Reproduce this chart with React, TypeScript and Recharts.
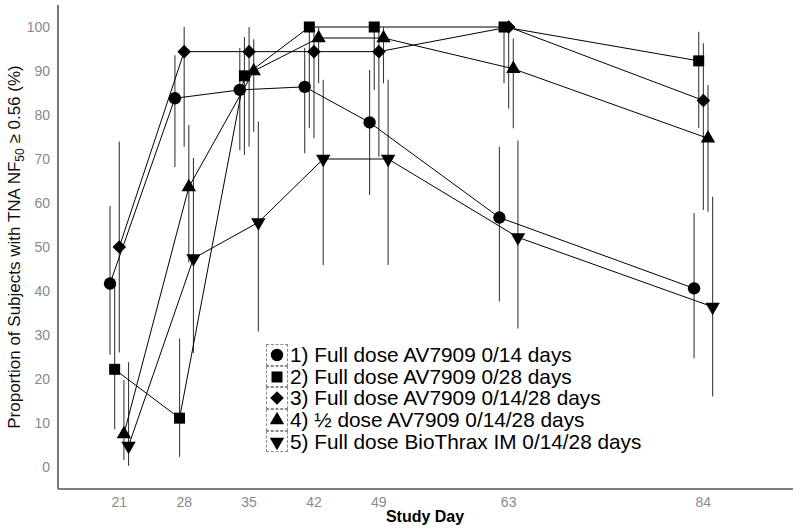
import React from 'react';
import { ScatterChart, Scatter, XAxis, YAxis, ErrorBar } from 'recharts';

const days = [21, 28, 35, 42, 49, 63, 84];
const yTicks = [0, 10, 20, 30, 40, 50, 60, 70, 80, 90, 100];

// 1) Full dose AV7909 0/14 days
const g1 = [41.7, 83.8, 85.7, 86.4, 78.3, 56.7, 40.6];
const g1Lo = [25.5, 68.2, 72, 71.3, 61.8, 37.6, 24.7];
const g1Hi = [59.3, 93.6, 95.2, 95.2, 90.2, 72.8, 57.7];
// 2) Full dose AV7909 0/28 days
const g2 = [22.2, 11.1, 88.9, 100, 100, 100, 92.3];
const g2Lo = [8.6, 2.3, 70.9, 77, 85.7, 87.2, 77];
const g2Hi = [41.4, 29.2, 97.7, 100, 100, 100, 98.9];
// 3) Full dose AV7909 0/14/28 days
const g3 = [50, 94.4, 94.4, 94.4, 94.4, 100, 83.3];
const g3Lo = [26, 72.8, 72.8, 74.7, 70.5, 81.5, 58.4];
const g3Hi = [74, 100, 100, 99.8, 99.8, 100, 96.3];
// 4) half dose AV7909 0/14/28 days
const g4 = [7.5, 63.6, 90, 97.5, 97.5, 90.5, 74.7];
const g4Lo = [1.6, 46.5, 76.2, 87.2, 87.2, 77, 58];
const g4Hi = [19.8, 77.7, 97.2, 99.9, 99.9, 97.4, 86.8];
// 5) Full dose BioThrax IM 0/14/28 days
const g5 = [4.8, 47.4, 55.6, 70, 70, 52.2, 36.4];
const g5Lo = [0.3, 25.9, 30.8, 45.9, 45.9, 31.5, 16];
const g5Hi = [23.8, 70.2, 78.5, 88, 88, 74.2, 61.4];

const labels = [
  '1) Full dose AV7909 0/14 days',
  '2) Full dose AV7909 0/28 days',
  '3) Full dose AV7909 0/14/28 days',
  '4) \u00BD dose AV7909 0/14/28 days',
  '5) Full dose BioThrax IM 0/14/28 days',
];
const shapes = ['circle', 'square', 'diamond', 'up', 'down'];
const offsets = [-1, -0.5, 0, 0.5, 1];

const build = (vals: number[], lo: number[], hi: number[], off: number) =>
  days.map((d, i) => ({ x: d + off, y: vals[i], err: [vals[i] - lo[i], hi[i] - vals[i]] }));

const series = [
  build(g1, g1Lo, g1Hi, offsets[0]),
  build(g2, g2Lo, g2Hi, offsets[1]),
  build(g3, g3Lo, g3Hi, offsets[2]),
  build(g4, g4Lo, g4Hi, offsets[3]),
  build(g5, g5Lo, g5Hi, offsets[4]),
];

function Marker({ kind, cx, cy }: { kind: string; cx: number; cy: number }) {
  if (kind === 'circle') return <circle cx={cx} cy={cy} r={6.2} fill="#000" />;
  if (kind === 'square') return <rect x={cx - 5.5} y={cy - 5.5} width={11} height={11} fill="#000" />;
  if (kind === 'diamond')
    return <polygon points={`${cx},${cy - 6.8} ${cx + 6.8},${cy} ${cx},${cy + 6.8} ${cx - 6.8},${cy}`} fill="#000" />;
  const w = 7.2;
  const h = 12.5;
  if (kind === 'up')
    return <polygon points={`${cx},${cy - (2 * h) / 3} ${cx + w},${cy + h / 3} ${cx - w},${cy + h / 3}`} fill="#000" />;
  return <polygon points={`${cx},${cy + (2 * h) / 3} ${cx + w},${cy - h / 3} ${cx - w},${cy - h / 3}`} fill="#000" />;
}

const YTitle = () => (
  <text transform="translate(19.5,247) rotate(-90)" textAnchor="middle" fontSize={17} fill="#111">
    Proportion of Subjects with TNA NF
    <tspan fontSize={12} dy={4}>50</tspan>
    <tspan dy={-4}> {'\u2265'} 0.56 (%)</tspan>
  </text>
);

const XTitle = () => (
  <text x={425} y={522} textAnchor="middle" fontSize={16} fontWeight="bold" fill="#000">
    Study Day
  </text>
);

export default function App() {
  return (
    <div
      style={{
        position: 'absolute',
        left: 0,
        top: 0,
        width: 800,
        height: 531,
        background: '#fff',
        fontFamily: '"Liberation Sans", Arial, sans-serif',
      }}
    >
      <ScatterChart width={800} height={531} margin={{ top: 5, right: 7, left: 0, bottom: 0 }}>
        <XAxis
          type="number"
          dataKey="x"
          domain={[14.39, 93.67]}
          ticks={days}
          interval={0}
          tickLine={false}
          axisLine={{ stroke: '#555', strokeWidth: 1.6 }}
          tick={{ fill: '#8a8a8a', fontSize: 14 }}
          height={42}
          label={<XTitle />}
        />
        <YAxis
          type="number"
          dataKey="y"
          domain={[-5, 105]}
          ticks={yTicks}
          interval={0}
          tickLine={false}
          axisLine={{ stroke: '#555', strokeWidth: 1.6 }}
          tick={{ fill: '#8a8a8a', fontSize: 14 }}
          width={58}
          label={<YTitle />}
        />
        {series.map((data, i) => (
          <Scatter
            key={labels[i]}
            name={labels[i]}
            data={data}
            isAnimationActive={false}
            line={{ stroke: '#000', strokeWidth: 1 }}
            shape={(p: any) => <Marker kind={shapes[i]} cx={p.cx} cy={p.cy} />}
          >
            <ErrorBar dataKey="err" direction="y" width={0} stroke="#3c3c3c" strokeWidth={1.1} isAnimationActive={false} />
          </Scatter>
        ))}
      </ScatterChart>
      <div style={{ position: 'absolute', left: 265.5, top: 344 }}>
        {labels.map((l, i) => (
          <div key={l} style={{ display: 'flex', alignItems: 'center', height: 21.7 }}>
            <div style={{ width: 20, height: 19.7, border: '1px dashed #8a8a8a' }}>
              <svg width={20} height={19.7} style={{ display: 'block' }}>
                <Marker kind={shapes[i]} cx={10} cy={10} />
              </svg>
            </div>
            <span style={{ fontSize: 20.8, lineHeight: '21.7px', marginLeft: 2.5, color: '#000', whiteSpace: 'nowrap' }}>{l}</span>
          </div>
        ))}
      </div>
    </div>
  );
}
